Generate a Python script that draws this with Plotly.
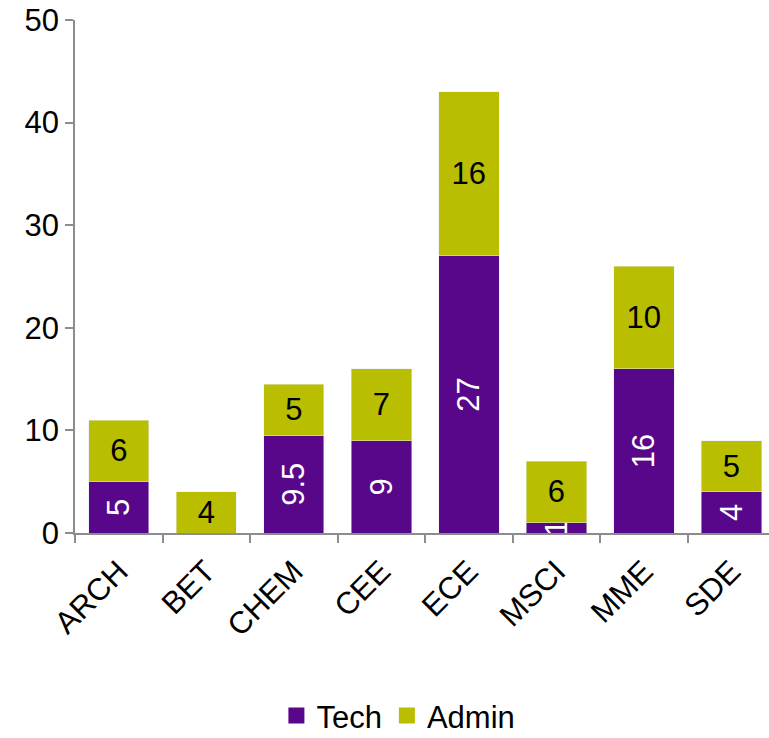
import plotly.graph_objects as go

# Staff counts by department
departments = ["ARCH", "BET", "CHEM", "CEE", "ECE", "MSCI", "MME", "SDE"]
tech = [5, 0, 9.5, 9, 27, 1, 16, 4]
admin = [6, 4, 5, 7, 16, 6, 10, 5]

PURPLE = "#58068A"
OLIVE = "#B9BE00"
AXIS = "#8C8C8C"
FONT = "Liberation Sans, Arial, sans-serif"
SIZE = 31


def label(v):
    if v == 0:
        return ""
    return f"{v:g}"


fig = go.Figure()
fig.add_trace(go.Bar(
    name="Tech", x=departments, y=tech, marker_color=PURPLE,
    text=[label(v) for v in tech], textposition="inside",
    insidetextanchor="middle", textangle=-90, constraintext="none",
    textfont=dict(color="white", size=SIZE, family=FONT),
    showlegend=False,
))
fig.add_trace(go.Bar(
    name="Admin", x=departments, y=admin, marker_color=OLIVE,
    text=[label(v) for v in admin], textposition="inside",
    insidetextanchor="middle", textangle=0, constraintext="none",
    textfont=dict(color="black", size=SIZE, family=FONT),
    showlegend=False,
))

# Legend keys as larger square swatches
for name, color in (("Tech", PURPLE), ("Admin", OLIVE)):
    fig.add_trace(go.Scatter(
        name=name, x=[None], y=[None], mode="markers",
        marker=dict(symbol="square", size=18, color=color),
        showlegend=True,
    ))

fig.update_layout(
    barmode="stack",
    bargap=0.31,
    width=769, height=738,
    margin=dict(l=75, r=0, t=20, b=205, autoexpand=False),
    paper_bgcolor="white", plot_bgcolor="white",
    font=dict(family=FONT, size=SIZE, color="black"),
    showlegend=True,
    legend=dict(orientation="h", x=0.466, xanchor="center",
                yref="container", y=0.03, yanchor="middle",
                font=dict(size=SIZE), itemwidth=30,
                traceorder="normal"),
    uniformtext=dict(minsize=SIZE, mode="show"),
)
fig.update_xaxes(
    type="category", range=[-0.5, 7.43], automargin=False,
    showline=True, linecolor=AXIS, linewidth=1.5,
    ticks="outside", tickson="boundaries", ticklen=8, tickcolor=AXIS,
    tickwidth=1.5, tickangle=-45, tickfont=dict(size=SIZE),
    ticklabelstandoff=6,
    showgrid=False, zeroline=False,
)
fig.update_yaxes(
    range=[0, 50], dtick=10, automargin=False,
    showline=True, linecolor=AXIS, linewidth=1.5,
    ticks="outside", ticklen=8, tickcolor=AXIS, tickwidth=1.5,
    tickfont=dict(size=SIZE), showgrid=False, zeroline=False,
)

fig.write_html("out.html")
